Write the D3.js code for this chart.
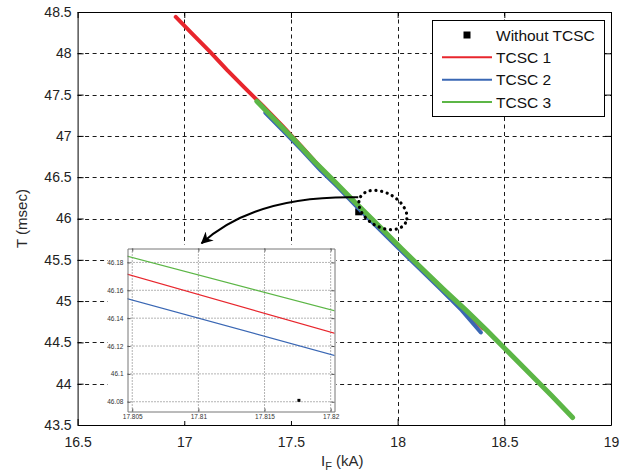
<!DOCTYPE html>
<html>
<head>
<meta charset="utf-8">
<script src="https://cdn.jsdelivr.net/npm/d3@7"></script>
<style>
  html, body { margin: 0; padding: 0; background: #fff; }
  svg { display: block; font-family: "Liberation Sans", Arial, sans-serif; }
</style>
</head>
<body>
<svg id="chart" width="628" height="473"></svg>
<script>
// Operating time T (msec) against fault current I_F (kA)
const xTicks = [16.5, 17, 17.5, 18, 18.5, 19];
const xTickLabels = ["16.5", "17", "17.5", "18", "18.5", "19"];
const yTicks = [43.5, 44, 44.5, 45, 45.5, 46, 46.5, 47, 47.5, 48, 48.5];
const yTickLabels = ["43.5", "44", "44.5", "45", "45.5", "46", "46.5", "47", "47.5", "48", "48.5"];

const seriesNames = ["Without TCSC", "TCSC 1", "TCSC 2", "TCSC 3"];

// Without TCSC: single operating point
const noTcscI = [17.8176];
const noTcscT = [46.081];

// TCSC 1
const tcsc1I = [16.96, 17.04, 17.12, 17.20, 17.28, 17.37, 17.46, 17.55, 17.64, 17.72, 17.80, 17.83, 17.91, 18.00, 18.10, 18.20, 18.30, 18.40];
const tcsc1T = [48.44, 48.23, 48.02, 47.80, 47.59, 47.36, 47.12, 46.87, 46.61, 46.39, 46.184, 46.103, 45.90, 45.67, 45.42, 45.17, 44.92, 44.67];

// TCSC 2
const tcsc2I = [17.38, 17.46, 17.55, 17.64, 17.72, 17.80, 17.83, 17.91, 18.00, 18.10, 18.20, 18.30, 18.39];
const tcsc2T = [47.28, 47.07, 46.83, 46.58, 46.38, 46.166, 46.088, 45.88, 45.65, 45.40, 45.15, 44.89, 44.62];

// TCSC 3
const tcsc3I = [17.34, 17.43, 17.52, 17.61, 17.70, 17.80, 17.83, 17.92, 18.02, 18.12, 18.22, 18.32, 18.42, 18.52, 18.62, 18.72, 18.82];
const tcsc3T = [47.42, 47.18, 46.94, 46.69, 46.46, 46.196, 46.121, 45.89, 45.63, 45.38, 45.13, 44.89, 44.64, 44.38, 44.12, 43.86, 43.59];

// Zoomed window shown in the inset
const insetXDomain = [17.80464, 17.82029];
const insetYDomain = [46.073, 46.19];
const insetXTicks = [17.805, 17.81, 17.815, 17.82];
const insetXTickLabels = ["17.805", "17.81", "17.815", "17.82"];
const insetYTicks = [46.08, 46.1, 46.12, 46.14, 46.16, 46.18];
const insetYTickLabels = ["46.08", "46.1", "46.12", "46.14", "46.16", "46.18"];

// Annotation anchors in data units
const arrowFrom = [17.8154, 46.2567];
const arrowBend = [17.3313, 46.2845];
const arrowTo = [17.0815, 45.700];
const loopCenter = [17.931, 46.103];

const colors = { red: "#e8262d", blue: "#3a67b4", green: "#5cb646", ink: "#111" };

const lines = [
  { I: tcsc1I, T: tcsc1T, color: colors.red, width: 4 },
  { I: tcsc2I, T: tcsc2T, color: colors.blue, width: 4 },
  { I: tcsc3I, T: tcsc3T, color: colors.green, width: 5 }
];

const svg = d3.select("#chart");
const plot = { left: 77.6, right: 611, top: 12, bottom: 425 };

const x = d3.scaleLinear().domain([16.5, 19]).range([plot.left, plot.right]);
const y = d3.scaleLinear().domain([43.5, 48.5]).range([plot.bottom, plot.top]);

// Dashed grid
const grid = svg.append("g").attr("stroke", "#1a1a1a").attr("stroke-width", 1).attr("stroke-dasharray", "4,3.5");
grid.selectAll("line.gx").data(xTicks.slice(1, -1)).join("line")
  .attr("x1", d => Math.round(x(d)) + 0.5).attr("x2", d => Math.round(x(d)) + 0.5)
  .attr("y1", plot.top).attr("y2", plot.bottom);
grid.selectAll("line.gy").data(yTicks.slice(1, -1)).join("line")
  .attr("y1", d => Math.round(y(d)) + 0.5).attr("y2", d => Math.round(y(d)) + 0.5)
  .attr("x1", plot.left).attr("x2", plot.right);

// Axes with inward ticks on all four sides
function styleAxis(g) {
  g.selectAll("path.domain").attr("stroke", "#000");
  g.selectAll(".tick line").attr("stroke", "#000");
  g.selectAll(".tick text").attr("fill", "#222").style("font-size", "14px")
    .style("font-family", "'Liberation Sans', Arial, sans-serif");
}
svg.append("g").attr("transform", `translate(0,${plot.bottom})`)
  .call(d3.axisBottom(x).tickValues(xTicks).tickFormat((d, i) => xTickLabels[i]).tickSizeInner(-6).tickSizeOuter(0).tickPadding(12))
  .call(styleAxis);
svg.append("g").attr("transform", `translate(0,${plot.top})`)
  .call(d3.axisTop(x).tickValues(xTicks).tickFormat("").tickSizeInner(-6).tickSizeOuter(0))
  .call(styleAxis);
svg.append("g").attr("transform", `translate(${plot.left},0)`)
  .call(d3.axisLeft(y).tickValues(yTicks).tickFormat((d, i) => yTickLabels[i]).tickSizeInner(-6).tickSizeOuter(0).tickPadding(6))
  .call(styleAxis);
svg.append("g").attr("transform", `translate(${plot.right},0)`)
  .call(d3.axisRight(y).tickValues(yTicks).tickFormat("").tickSizeInner(-6).tickSizeOuter(0))
  .call(styleAxis);

// Axis titles
svg.append("text")
  .attr("transform", `translate(27,${(plot.top + plot.bottom) / 2}) rotate(-90)`)
  .attr("text-anchor", "middle").attr("fill", "#2a2a2a").style("font-size", "15px")
  .text("T (msec)");
const xl = svg.append("text")
  .attr("x", (plot.left + plot.right) / 2 - 2).attr("y", 466)
  .attr("text-anchor", "middle").attr("fill", "#2a2a2a").style("font-size", "15px");
xl.append("tspan").text("I");
xl.append("tspan").attr("dy", 4).style("font-size", "11px").text("F");
xl.append("tspan").attr("dy", -4).text(" (kA)");

// Series in the main axes
const main = svg.append("g");
const sq = 7;
main.selectAll("rect.pt").data(noTcscI).join("rect")
  .attr("x", (d) => x(d) - sq / 2).attr("y", (d, i) => y(noTcscT[i]) - sq / 2)
  .attr("width", sq).attr("height", sq).attr("fill", "#000");

function linePath(sx, sy) {
  return s => d3.line().x(d => sx(d[0])).y(d => sy(d[1]))(s.I.map((v, i) => [v, s.T[i]]));
}
main.selectAll("path.series").data(lines).join("path")
  .attr("d", linePath(x, y))
  .attr("fill", "none").attr("stroke", d => d.color).attr("stroke-width", d => d.width)
  .attr("stroke-linejoin", "round").attr("stroke-linecap", "round");

// Inset: same data in a zoomed window
const inset = { left: 127.5, right: 334.5, top: 248.5, bottom: 411.5 };
const ix = d3.scaleLinear().domain(insetXDomain).range([inset.left, inset.right]);
const iy = d3.scaleLinear().domain(insetYDomain).range([inset.bottom, inset.top]);

svg.append("rect").attr("x", 108).attr("y", 245).attr("width", 228).attr("height", 176).attr("fill", "#fff");

const ig = svg.append("g");
const igrid = ig.append("g").attr("stroke", "#444").attr("stroke-width", 0.8).attr("stroke-dasharray", "1,2");
igrid.selectAll("line.vx").data(insetXTicks).join("line")
  .attr("x1", d => ix(d)).attr("x2", d => ix(d)).attr("y1", inset.top).attr("y2", inset.bottom);
igrid.selectAll("line.hy").data(insetYTicks).join("line")
  .attr("y1", d => iy(d)).attr("y2", d => iy(d)).attr("x1", inset.left).attr("x2", inset.right);

svg.append("defs").append("clipPath").attr("id", "insetClip")
  .append("rect").attr("x", inset.left).attr("y", inset.top)
  .attr("width", inset.right - inset.left).attr("height", inset.bottom - inset.top);

const iplot = ig.append("g").attr("clip-path", "url(#insetClip)");
iplot.selectAll("path.iseries").data(lines).join("path")
  .attr("d", linePath(ix, iy))
  .attr("fill", "none").attr("stroke", d => d.color).attr("stroke-width", 1.2);
iplot.selectAll("rect.ipt").data(noTcscI).join("rect")
  .attr("x", d => ix(d) - 1.5).attr("y", (d, i) => iy(noTcscT[i]) - 1.5)
  .attr("width", 3).attr("height", 3).attr("fill", "#000");

function styleInsetAxis(g) {
  g.selectAll("path.domain").attr("stroke", "#777");
  g.selectAll(".tick line").attr("stroke", "#555");
  g.selectAll(".tick text").attr("fill", "#333").style("font-size", "6.5px")
    .style("font-family", "'Liberation Sans', Arial, sans-serif");
}
ig.append("g").attr("transform", `translate(0,${inset.bottom})`)
  .call(d3.axisBottom(ix).tickValues(insetXTicks).tickFormat((d, i) => insetXTickLabels[i]).tickSizeInner(-3).tickSizeOuter(0).tickPadding(3))
  .call(styleInsetAxis);
ig.append("g").attr("transform", `translate(0,${inset.top})`)
  .call(d3.axisTop(ix).tickValues(insetXTicks).tickFormat("").tickSizeInner(-3).tickSizeOuter(0))
  .call(styleInsetAxis);
ig.append("g").attr("transform", `translate(${inset.left},0)`)
  .call(d3.axisLeft(iy).tickValues(insetYTicks).tickFormat((d, i) => insetYTickLabels[i]).tickSizeInner(-3).tickSizeOuter(0).tickPadding(4))
  .call(styleInsetAxis);
ig.append("g").attr("transform", `translate(${inset.right},0)`)
  .call(d3.axisRight(iy).tickValues(insetYTicks).tickFormat("").tickSizeInner(-3).tickSizeOuter(0))
  .call(styleInsetAxis);

// Dotted loop around the operating point and the call-out arrow
svg.append("ellipse")
  .attr("transform", `translate(${x(loopCenter[0])},${y(loopCenter[1])}) rotate(30)`)
  .attr("rx", 26).attr("ry", 17)
  .attr("fill", "none").attr("stroke", "#000").attr("stroke-width", 3.2)
  .attr("stroke-dasharray", "0.1,5.6").attr("stroke-linecap", "round");

svg.select("defs").append("marker")
  .attr("id", "head").attr("viewBox", "0 0 10 10").attr("refX", 9).attr("refY", 5)
  .attr("markerUnits", "userSpaceOnUse").attr("markerWidth", 18).attr("markerHeight", 12)
  .attr("orient", "auto")
  .append("path").attr("d", "M0,0 L10,5 L0,10 L3,5 Z").attr("fill", "#000");

const arrowPath = d3.path();
arrowPath.moveTo(x(arrowFrom[0]), y(arrowFrom[1]));
arrowPath.quadraticCurveTo(x(arrowBend[0]), y(arrowBend[1]), x(arrowTo[0]), y(arrowTo[1]));
svg.append("path").attr("d", arrowPath.toString())
  .attr("fill", "none").attr("stroke", "#000").attr("stroke-width", 2)
  .attr("marker-end", "url(#head)");

// Legend
const lg = svg.append("g");
lg.append("rect").attr("x", 432.5).attr("y", 20.5).attr("width", 172).attr("height", 96)
  .attr("fill", "#fff").attr("stroke", "#000");
const legendRows = [
  { name: seriesNames[0], type: "square" },
  { name: seriesNames[1], type: "line", color: colors.red },
  { name: seriesNames[2], type: "line", color: colors.blue },
  { name: seriesNames[3], type: "line", color: colors.green }
];
const rowY = d3.scalePoint().domain(d3.range(legendRows.length)).range([35, 102]);
const rows = lg.selectAll("g.row").data(legendRows).join("g")
  .attr("transform", (d, i) => `translate(0,${rowY(i)})`);
rows.filter(d => d.type === "line").append("line")
  .attr("x1", 442).attr("x2", 492).attr("y1", 0).attr("y2", 0)
  .attr("stroke", d => d.color).attr("stroke-width", 2);
rows.filter(d => d.type === "square").append("rect")
  .attr("x", 463.5).attr("y", -3.5).attr("width", 7).attr("height", 7).attr("fill", "#000");
rows.append("text").attr("x", 496).attr("y", 5.5).attr("fill", "#111")
  .style("font-size", "15.5px").text(d => d.name);
</script>
</body>
</html>
